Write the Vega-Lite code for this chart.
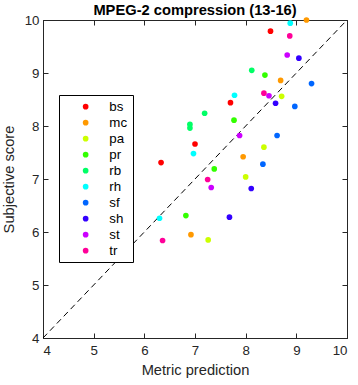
{
  "$schema": "https://vega.github.io/schema/vega-lite/v6.json",
  "width": 304,
  "height": 318,
  "autosize": "none",
  "padding": {"left": 43, "top": 20, "right": 11, "bottom": 47},
  "background": "white",
  "title": {"text": "MPEG-2 compression (13-16)", "font": "Liberation Sans", "fontSize": 14.7, "fontWeight": "bold", "color": "black", "offset": -5, "anchor": "middle"},
  "config": {
    "view": {"stroke": "#262626", "strokeWidth": 1},
    "axis": {"grid": false, "domainColor": "#262626", "tickColor": "#262626", "labelColor": "#262626", "titleColor": "#262626", "labelFont": "Liberation Sans", "titleFont": "Liberation Sans", "labelFontSize": 13.3, "titleFontSize": 14.7, "titleFontWeight": "normal", "tickSize": -5, "tickCount": 7}
  },
  "resolve": {"axis": {"x": "independent", "y": "independent"}},
  "layer": [
    {
      "data": {"values": [{"x": 4, "y": 4, "x2": 10, "y2": 10}]},
      "mark": {"type": "rule", "color": "black", "strokeDash": [6, 4], "strokeWidth": 1},
      "encoding": {
        "x": {"field": "x", "type": "quantitative", "scale": {"domain": [4, 10], "nice": false}, "axis": {"orient": "top", "labels": false, "title": null, "values": [4, 5, 6, 7, 8, 9, 10]}},
        "y": {"field": "y", "type": "quantitative", "scale": {"domain": [4, 10], "nice": false}, "axis": {"orient": "right", "labels": false, "title": null, "values": [4, 5, 6, 7, 8, 9, 10]}},
        "x2": {"field": "x2"},
        "y2": {"field": "y2"}
      }
    },
    {
      "data": {"values": [
        {"m": "bs", "x": 8.49, "y": 9.79}, {"m": "bs", "x": 7.70, "y": 8.44}, {"m": "bs", "x": 7.00, "y": 7.66}, {"m": "bs", "x": 6.33, "y": 7.31},
        {"m": "mc", "x": 9.20, "y": 10.0}, {"m": "mc", "x": 8.69, "y": 8.86}, {"m": "mc", "x": 7.95, "y": 7.42}, {"m": "mc", "x": 6.92, "y": 5.95},
        {"m": "pa", "x": 8.71, "y": 8.56}, {"m": "pa", "x": 8.36, "y": 7.60}, {"m": "pa", "x": 8.00, "y": 7.04}, {"m": "pa", "x": 7.26, "y": 5.85},
        {"m": "pr", "x": 8.38, "y": 8.96}, {"m": "pr", "x": 7.77, "y": 8.11}, {"m": "pr", "x": 7.38, "y": 7.19}, {"m": "pr", "x": 6.82, "y": 6.31},
        {"m": "rb", "x": 8.12, "y": 9.05}, {"m": "rb", "x": 7.19, "y": 8.24}, {"m": "rb", "x": 6.90, "y": 8.03}, {"m": "rb", "x": 6.90, "y": 7.96},
        {"m": "rh", "x": 8.88, "y": 9.94}, {"m": "rh", "x": 7.78, "y": 8.58}, {"m": "rh", "x": 6.97, "y": 7.48}, {"m": "rh", "x": 6.30, "y": 6.26},
        {"m": "sf", "x": 9.30, "y": 8.80}, {"m": "sf", "x": 8.97, "y": 8.37}, {"m": "sf", "x": 8.62, "y": 7.82}, {"m": "sf", "x": 8.34, "y": 7.28},
        {"m": "sh", "x": 9.05, "y": 9.28}, {"m": "sh", "x": 8.59, "y": 8.43}, {"m": "sh", "x": 8.11, "y": 6.82}, {"m": "sh", "x": 7.68, "y": 6.28},
        {"m": "st", "x": 8.82, "y": 9.34}, {"m": "st", "x": 8.46, "y": 8.57}, {"m": "st", "x": 7.88, "y": 7.82}, {"m": "st", "x": 7.32, "y": 6.84},
        {"m": "tr", "x": 8.87, "y": 9.70}, {"m": "tr", "x": 8.36, "y": 8.62}, {"m": "tr", "x": 7.25, "y": 6.99}, {"m": "tr", "x": 6.36, "y": 5.84}
      ]},
      "mark": {"type": "circle", "size": 32, "opacity": 1},
      "encoding": {
        "x": {"field": "x", "type": "quantitative", "scale": {"domain": [4, 10], "nice": false}, "axis": {"orient": "bottom", "title": "Metric prediction", "values": [4, 5, 6, 7, 8, 9, 10], "labelPadding": 10, "titlePadding": 6}},
        "y": {"field": "y", "type": "quantitative", "scale": {"domain": [4, 10], "nice": false}, "axis": {"orient": "left", "title": "Subjective score", "values": [4, 5, 6, 7, 8, 9, 10], "labelPadding": 9, "titlePadding": 8}},
        "color": {"field": "m", "type": "nominal", "scale": {"domain": ["bs", "mc", "pa", "pr", "rb", "rh", "sf", "sh", "st", "tr"], "range": ["#FF0000", "#FF9900", "#CCFF00", "#33FF00", "#00FF66", "#00FFFF", "#0066FF", "#3300FF", "#CC00FF", "#FF0099"]},
          "legend": {"title": null, "orient": "none", "legendX": 16, "legendY": 75, "strokeColor": "black", "fillColor": "white", "padding": 5, "symbolType": "circle", "symbolSize": 32, "symbolOffset": 15, "labelOffset": 17, "labelFont": "Liberation Sans", "labelFontSize": 13.3, "labelColor": "black", "rowPadding": 2.0}}
      }
    }
  ]
}
